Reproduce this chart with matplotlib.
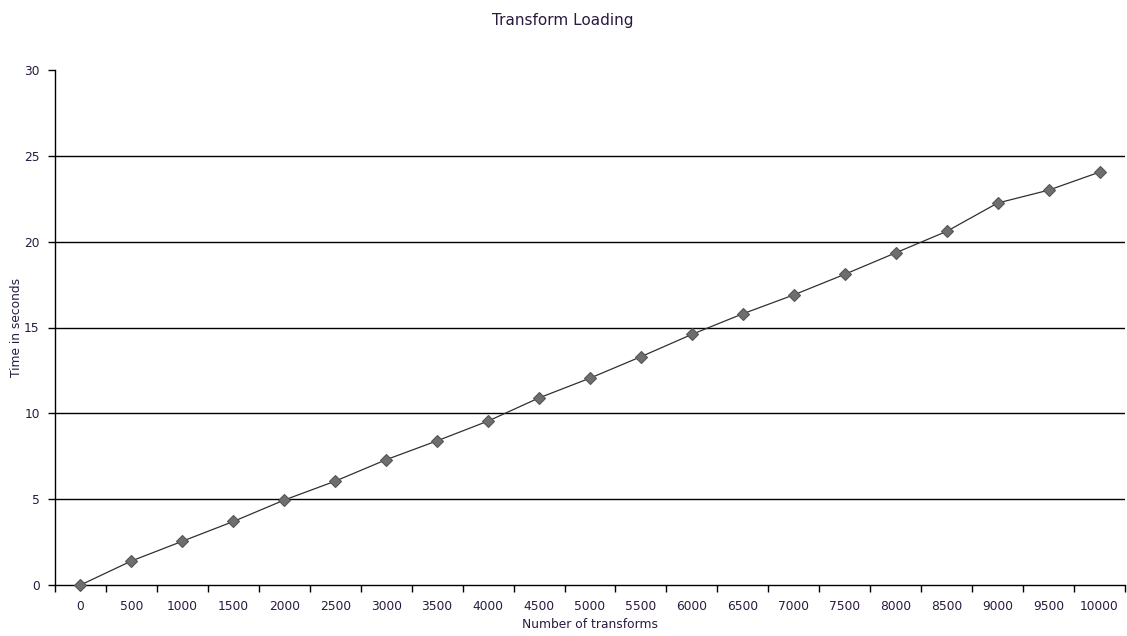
import matplotlib
matplotlib.use("Agg")
import matplotlib.pyplot as plt
from matplotlib.ticker import FixedLocator

categories = ["0", "500", "1000", "1500", "2000", "2500", "3000", "3500", "4000", "4500",
              "5000", "5500", "6000", "6500", "7000", "7500", "8000", "8500", "9000", "9500", "10000"]
times = [0.0, 1.4, 2.55, 3.7, 4.95, 6.05, 7.3, 8.4, 9.55, 10.9,
         12.05, 13.3, 14.6, 15.8, 16.9, 18.1, 19.35, 20.6, 22.25, 23.0, 24.05]
y_ticks = [0, 5, 10, 15, 20, 25, 30]

plt.rcParams['font.family'] = ['DejaVu Sans']
txt = '#2a1a40'

fig = plt.figure(figsize=(11.27, 6.36), dpi=100)
W, H = 1127, 636
ax = fig.add_axes([55 / W, 1 - 585 / H, (1125 - 55) / W, (585 - 70) / H])

x = list(range(len(categories)))
ax.plot(x, times, color='#303030', lw=0.9, marker='D', markersize=6.5,
        markerfacecolor='#6e6e6e', markeredgecolor='#555555', markeredgewidth=0.8,
        zorder=3, clip_on=False)

ax.set_xlim(-0.5, len(categories) - 0.5)
ax.set_ylim(0, 30)
ax.set_yticks(y_ticks)
ax.set_xticks(x)
ax.set_xticklabels(categories)
ax.xaxis.set_minor_locator(FixedLocator([i - 0.5 for i in range(len(categories) + 1)]))
ax.tick_params(axis='x', which='major', length=0, pad=11, labelsize=8.8, labelcolor=txt)
ax.tick_params(axis='x', which='minor', length=5, width=1, direction='out', color='black')
ax.tick_params(axis='y', which='major', length=5, width=1, direction='out', color='black',
               pad=6, labelsize=8.8, labelcolor=txt)

ax.yaxis.grid(True, color='black', lw=1)
ax.set_axisbelow(True)
for gl, v in zip(ax.get_ygridlines(), y_ticks):
    if v in (0, 30):
        gl.set_visible(False)

for s in ['top', 'right']:
    ax.spines[s].set_visible(False)
for s in ['left', 'bottom']:
    ax.spines[s].set_color('black')
    ax.spines[s].set_linewidth(1)

fig.text(563 / W, 1 - 20 / H, "Transform Loading", ha='center', va='center', fontsize=11, color=txt)
fig.text(17 / W, 1 - 327 / H, "Time in seconds", ha='center', va='center', rotation=90,
         fontsize=8.8, color=txt)
fig.text(590 / W, 1 - 625 / H, "Number of transforms", ha='center', va='center', fontsize=8.8, color=txt)

fig.savefig("out.png", dpi=100)
